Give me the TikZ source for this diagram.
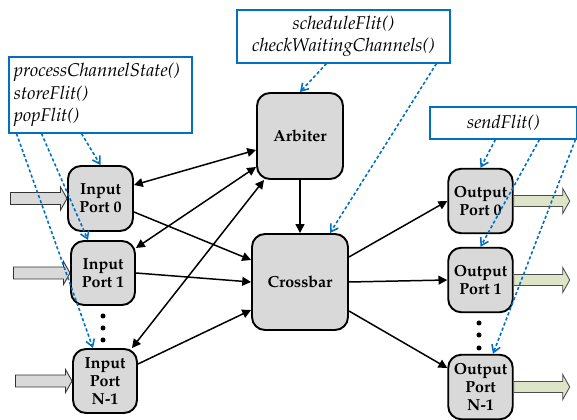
\documentclass[tikz,border=0pt]{standalone}
\usepackage[T1]{fontenc}
\usepackage{mathpazo}
\usepackage{tikz}
\usetikzlibrary{arrows.meta}

\definecolor{portgray}{HTML}{D9D9D9}
\definecolor{outgreen}{HTML}{DDE4C8}
\definecolor{funcblue}{HTML}{0070C0}

\tikzset{
    unit/.style={draw, line width=1.1pt, fill=portgray, rounded corners=0.26cm,
        align=center, inner sep=0pt, font=\fontsize{9.1}{10.2}\selectfont\bfseries},
    funcbox/.style={draw=funcblue, line width=0.6pt, inner sep=0.1cm,
        font=\fontsize{10.5}{12.8}\selectfont\itshape},
    link/.style={line width=0.85pt, -{Triangle[length=5pt,width=5pt]}},
    biglink/.style={line width=0.85pt, {Triangle[length=5pt,width=5pt]}-{Triangle[length=5pt,width=5pt]}},
    calls/.style={funcblue, line width=0.9pt, dash pattern=on 1.8pt off 1.3pt,
        -{Straight Barb[length=4pt,width=5pt]}},
    inflow/.style={draw=black!80, line width=0.5pt, fill=portgray},
    outflow/.style={draw=black!70, line width=0.5pt, fill=outgreen},
    dot/.style={circle, fill, inner sep=0pt, minimum size=0.1cm}
}

\begin{document}
\begin{tikzpicture}
            \useasboundingbox (0,0) rectangle (11.54,8.4);

            \node[unit, minimum size=1.3cm] (in0) at (2.01,4.43) {Input\\Port 0};
            \node[unit, minimum size=1.28cm] (in1) at (2.06,2.94) {Input\\Port 1};
            \node[unit, minimum size=1.28cm] (inN) at (2.10,0.78) {Input\\Port\\N-1};
            \node[unit, minimum size=1.72cm] (arb) at (6.00,5.68) {Arbiter};
            \node[unit, minimum size=1.92cm] (xbar) at (6.00,2.76) {Crossbar};
            \node[unit, minimum size=1.29cm] (out0) at (9.61,4.38) {Output\\Port 0};
            \node[unit, minimum size=1.29cm] (out1) at (9.61,2.80) {Output\\Port 1};
            \node[unit, minimum size=1.29cm] (outN) at (9.61,0.66) {Output\\Port\\N-1};

            \node[funcbox, minimum width=3.66cm, minimum height=1.52cm, text width=3.46cm, align=left] (procbox) at (2.01,6.50)
                {processChannelState()\\storeFlit()\\popFlit()};
            \node[funcbox, minimum width=4.26cm, minimum height=1.06cm, align=center] (schedbox) at (6.87,7.67)
                {scheduleFlit()\\checkWaitingChannels()};
            \node[funcbox, minimum width=2.94cm, minimum height=0.64cm] (sendbox) at (10.07,5.94) {sendFlit()};

            \foreach \y in {2.08,1.84,1.60} \node[dot] (indot\y) at (2.06,\y) {};
            \foreach \y in {1.94,1.70,1.44} \node[dot] (outdot\y) at (9.58,\y) {};

            \foreach \p in {in0,in1,inN}
                \draw[inflow] (\p.west) -- ++(-0.13,0.23) -- ++(0,-0.11) -- ++(-1.0,0) -- ++(0,-0.24)
                    -- ++(1.0,0) -- ++(0,-0.11) -- cycle;
            \foreach \p in {out0,out1,outN}
                \draw[outflow] (\p.east) ++(0,0.11) -- ++(0.98,0) -- ++(0,0.14) -- ++(0.14,-0.25)
                    -- ++(-0.14,-0.25) -- ++(0,0.14) -- ++(-0.98,0) -- cycle;

            \draw[biglink] ([yshift=0.27cm]in0.east) -- ([yshift=-0.28cm]arb.west);
            \draw[biglink] ([yshift=0.5cm]in1.east) -- ([yshift=-0.62cm]arb.west);
            \draw[biglink] ([xshift=-0.12cm]inN.north east) -- ([xshift=0.16cm]arb.south west);
            \draw[link] ([yshift=-0.27cm]in0.east) -- ([yshift=0.44cm]xbar.west);
            \draw[link] (in1.east) -- (xbar.west);
            \draw[link] ([yshift=0.34cm]inN.east) -- ([yshift=-0.56cm]xbar.west);
            \draw[link] (arb.south) -- (xbar.north);
            \draw[link] ([yshift=0.5cm]xbar.east) -- (out0.west);
            \draw[link] (xbar.east) -- (out1.west);
            \draw[link] ([yshift=-0.58cm]xbar.east) -- ([yshift=0.38cm]outN.west);

            \draw[calls] ([xshift=1.46cm]procbox.south west) -- (in0.north);
            \draw[calls] ([xshift=0.66cm]procbox.south west) -- ([xshift=-0.3cm]in1.north);
            \draw[calls] ([xshift=0.16cm]procbox.south west) -- ([xshift=-0.24cm]inN.north);
            \draw[calls] ([xshift=1.8cm]schedbox.south west) -- (arb.north);
            \draw[calls] ([xshift=4.0cm]schedbox.south west) -- ([xshift=0.6cm]xbar.north);
            \draw[calls] ([xshift=1.32cm]sendbox.south west) -- (out0.north);
            \draw[calls] ([xshift=2.2cm]sendbox.south west) -- (out1.north);
            \draw[calls] ([xshift=2.92cm]sendbox.south west) -- ([xshift=0.25cm]outN.north);
\end{tikzpicture}
\end{document}
